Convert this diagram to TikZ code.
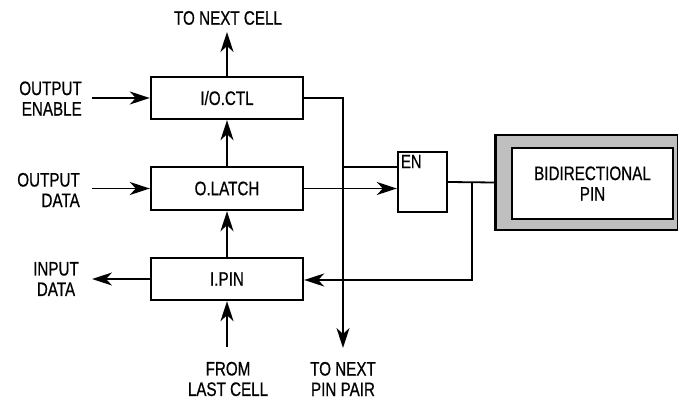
\documentclass[tikz,border=0pt]{standalone}
\usepackage{fontspec}
\setmainfont{Liberation Sans}[FakeStretch=0.78,FakeBold=0.6]
\usetikzlibrary{arrows.meta}
\begin{document}
\begin{tikzpicture}[x=1pt,y=-1pt,
  txt/.style={font=\fontsize{19.5}{20.5}\selectfont, inner sep=0pt},
  lbl/.style={txt, align=center},
  box/.style={draw, line width=2.4pt, minimum width=152pt, minimum height=42pt, inner sep=0pt, txt},
  conn/.style={line width=1.8pt},
  arr/.style={conn, -{Stealth[length=20pt,width=13pt,inset=6pt]}}]
\useasboundingbox (0,0) rectangle (678,406);

% blocks
\node[box] (ioctl) at (227,98) {I/O.CTL};
\node[box, minimum height=43pt] (olatch) at (227,188.5) {O.LATCH};
\node[box] (ipin) at (227,279) {I.PIN};
\node[draw, line width=2.4pt, minimum width=49pt, minimum height=60pt, inner sep=0pt] (en) at (422.5,182) {};
\node[anchor=north west, inner sep=0pt, font=\fontsize{19}{20}\selectfont] (entxt) at ([xshift=4pt,yshift=-4pt]en.north west) {EN};
\node[draw, line width=2.4pt, fill=black!25, minimum width=183pt, minimum height=95pt, inner sep=0pt] (pinouter) at (587,182.5) {};
\node[draw, line width=2.4pt, fill=white, minimum width=161pt, minimum height=71pt, inner sep=0pt, lbl] (pin) at (592.5,183.5) {BIDIRECTIONAL\\PIN};

% labels
\node[txt, align=right, anchor=east] (oe) at (82,98.5) {OUTPUT\\ENABLE};
\node[txt, align=right, anchor=east] (od) at (80,190) {OUTPUT\\DATA};
\node[lbl] (id) at (56,279) {INPUT\\DATA};
\node[lbl] (tnc) at (228,18) {TO NEXT CELL};
\node[lbl] (flc) at (228,379) {FROM\\LAST CELL};
\node[lbl] (tnp) at (343,379) {TO NEXT\\PIN PAIR};

% coordinates
\coordinate (oeS) at (92,98);
\coordinate (odS) at (92,188.5);
\coordinate (idE) at (92,279);
\coordinate (tncE) at (227,32);
\coordinate (flcS) at (227,347);
\coordinate (tnpE) at (343,348);
\coordinate (enA) at (343,167);
\coordinate (jn) at (472,182);
\coordinate (jb) at (472,280);

% connectors
\draw[arr] (oeS) -- (ioctl.west);
\draw[arr] (odS) -- (olatch.west);
\draw[arr] (ipin.west) -- (idE);
\draw[arr] (ioctl.north) -- (tncE);
\draw[arr] (olatch.north) -- (ioctl.south);
\draw[arr] (ipin.north) -- (olatch.south);
\draw[arr] (flcS) -- (ipin.south);
\draw[arr] (ioctl.east) -- (ioctl.east -| tnpE) -- (tnpE);
\draw[conn] (enA) -- (enA -| en.west);
\draw[arr] (olatch.east) -- (olatch.east -| en.west);
\draw[conn] (en.east) -- (pinouter.west);
\draw[arr] (jn) -- (jb) -- (jb -| ipin.east);
\end{tikzpicture}
\end{document}
